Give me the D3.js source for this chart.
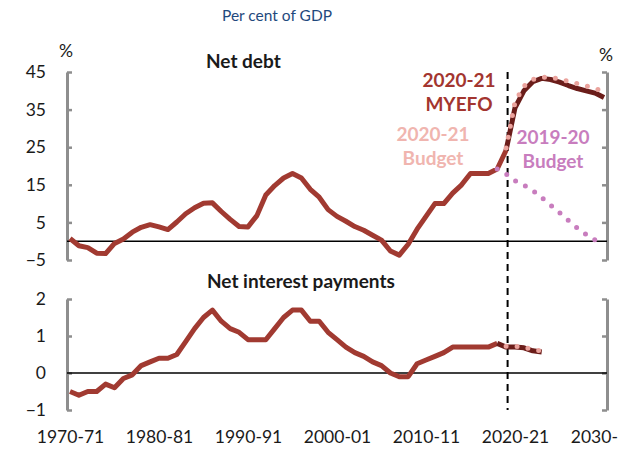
<!DOCTYPE html>
<html>
<head>
<meta charset="utf-8">
<script src="https://cdn.jsdelivr.net/npm/d3@7"></script>
<style>
  html, body { margin: 0; padding: 0; background: #fff; }
  svg { display: block; font-family: Lato, "Open Sans", sans-serif; }
</style>
</head>
<body>
<svg id="chart" width="618" height="449"></svg>
<script>
// Financial years 1970-71 .. 2030-31
const years = d3.range(1970, 2031).map(y => `${y}-${String((y + 1) % 100).padStart(2, "0")}`);
const xTickLabels = ["1970-71", "1980-81", "1990-91", "2000-01", "2010-11", "2020-21", "2030-31"];

const debtTicks = [-5, 5, 15, 25, 35, 45];
const interestTicks = [-1, 0, 1, 2];

// Net debt, per cent of GDP (outcomes 1970-71 to 2019-20)
const netDebtHistory = [
  0.7, -1.2, -1.7, -3.2, -3.3, -0.6, 0.6, 2.4, 3.7, 4.4,
  3.8, 3.1, 5.1, 7.3, 8.9, 10.1, 10.2, 7.9, 5.8, 3.9,
  3.8, 6.8, 12.3, 14.8, 16.8, 18.0, 16.8, 13.8, 11.7, 8.4,
  6.6, 5.3, 3.9, 2.9, 1.6, 0.3, -2.6, -3.7, -0.8, 3.2,
  6.6, 10.0, 10.0, 12.8, 15.0, 18.0, 18.0, 18.0, 19.2, 24.2
];
// 2020-21 MYEFO, from 2019-20
const netDebtMyefoStart = "2019-20";
const netDebtMyefo = [24.2, 35.5, 40.0, 42.4, 43.3, 43.0, 42.3, 41.4, 40.6, 40.0, 39.4, 38.2];
// 2020-21 Budget, from 2019-20
const netDebtBudget2021Start = "2019-20";
const netDebtBudget2021 = [24.8, 37.0, 41.2, 43.0, 43.6, 43.6, 43.1, 42.5, 41.9, 41.3, 40.6, 39.9];
// 2019-20 Budget, from 2018-19
const netDebtBudget1920Start = "2018-19";
const netDebtBudget1920 = [19.2, 17.9, 16.1, 14.9, 13.5, 11.6, 9.6, 7.6, 5.5, 3.5, 1.8, 0.3];

// Net interest payments, per cent of GDP (outcomes 1970-71 to 2018-19)
const interestHistory = [
  -0.5, -0.6, -0.5, -0.5, -0.3, -0.4, -0.15, -0.05, 0.2, 0.3,
  0.4, 0.4, 0.5, 0.85, 1.2, 1.5, 1.7, 1.4, 1.2, 1.1,
  0.9, 0.9, 0.9, 1.2, 1.5, 1.7, 1.7, 1.4, 1.4, 1.1,
  0.9, 0.7, 0.55, 0.45, 0.3, 0.2, 0.0, -0.1, -0.1, 0.25,
  0.35, 0.45, 0.55, 0.7, 0.7, 0.7, 0.7, 0.7, 0.8
];
const interestMyefoStart = "2018-19";
const interestMyefo = [0.8, 0.7, 0.7, 0.68, 0.6, 0.57];
const interestBudget2021Start = "2019-20";
const interestBudget2021 = [0.72, 0.72, 0.7, 0.63, 0.6];

const colors = {
  history: "#a13a31",
  myefo: "#6b1d1a",
  budget2021: "#eba39d",
  budget1920: "#c87dbe",
  axis: "#8e8e8e",
  title: "#1f497d",
  text: "#1a1a1a"
};

const svg = d3.select("#chart");
const W = 618;

const x = d3.scalePoint().domain(years).range([70, 604]);
const yDebt = d3.scaleLinear().domain([-5, 45]).range([260, 72]);
const yInt = d3.scaleLinear().domain([-1, 2]).range([410, 299]);

const axisLeftX = 67, axisRightX = 607;

function seriesPoints(start, values) {
  const i0 = years.indexOf(start);
  return values.map((v, i) => [years[i0 + i], v]);
}

function drawAxes(y, ticks) {
  const left = svg.append("g")
    .attr("transform", `translate(${axisLeftX},0)`)
    .call(d3.axisLeft(y).tickValues(ticks).tickSize(-5).tickSizeOuter(0).tickPadding(21).tickFormat(d3.format("d")));
  const right = svg.append("g")
    .attr("transform", `translate(${axisRightX},0)`)
    .call(d3.axisRight(y).tickValues(ticks).tickSize(-5).tickSizeOuter(0).tickFormat(""));
  [left, right].forEach(g => {
    g.select(".domain").attr("stroke", colors.axis).attr("stroke-width", 3);
    g.selectAll(".tick line").attr("stroke", colors.axis).attr("stroke-width", 2.5);
    g.selectAll(".tick text").attr("fill", colors.text).attr("font-size", 17.5)
      .attr("font-family", "Lato, sans-serif");
  });
  // zero line
  svg.append("line")
    .attr("x1", axisLeftX).attr("x2", axisRightX)
    .attr("y1", y(0)).attr("y2", y(0))
    .attr("stroke", "#000").attr("stroke-width", 1.5);
}

drawAxes(yDebt, debtTicks);
drawAxes(yInt, interestTicks);

// x-axis category labels
const xAxis = svg.append("g")
  .attr("transform", "translate(0,431)")
  .call(d3.axisBottom(x).tickValues(xTickLabels).tickSize(0).tickPadding(0));
xAxis.select(".domain").remove();
xAxis.selectAll(".tick text").attr("fill", colors.text).attr("font-size", 17.5)
  .attr("font-family", "Lato, sans-serif");

// vertical marker at 2019-20
svg.append("line")
  .attr("x1", x("2019-20") + 1.5).attr("x2", x("2019-20") + 1.5)
  .attr("y1", yDebt(45)).attr("y2", yInt(-1))
  .attr("stroke", "#000").attr("stroke-width", 2)
  .attr("stroke-dasharray", "7,5");

function drawLine(y, pts, color, dotted) {
  const line = d3.line().x(d => x(d[0])).y(d => y(d[1]));
  const p = svg.append("path")
    .datum(pts)
    .attr("d", line)
    .attr("fill", "none")
    .attr("stroke", color)
    .attr("stroke-width", 5)
    .attr("stroke-linejoin", "round");
  if (dotted) {
    p.attr("stroke-dasharray", "0,11").attr("stroke-linecap", "round");
  }
}

// Net debt panel
drawLine(yDebt, seriesPoints("1970-71", netDebtHistory), colors.history, false);
drawLine(yDebt, seriesPoints(netDebtMyefoStart, netDebtMyefo), colors.myefo, false);
drawLine(yDebt, seriesPoints(netDebtBudget2021Start, netDebtBudget2021), colors.budget2021, true);
drawLine(yDebt, seriesPoints(netDebtBudget1920Start, netDebtBudget1920), colors.budget1920, true);

// Net interest panel
drawLine(yInt, seriesPoints("1970-71", interestHistory), colors.history, false);
drawLine(yInt, seriesPoints(interestMyefoStart, interestMyefo), colors.myefo, false);
drawLine(yInt, seriesPoints(interestBudget2021Start, interestBudget2021), colors.budget2021, true);

// Titles and labels
svg.append("text").attr("x", 277).attr("y", 21).attr("text-anchor", "middle")
  .attr("font-size", 15.5).attr("fill", colors.title).text("Per cent of GDP");

svg.append("text").attr("x", 66).attr("y", 57).attr("text-anchor", "middle")
  .attr("font-size", 17.5).attr("fill", colors.text).text("%");
svg.append("text").attr("x", 606).attr("y", 61).attr("text-anchor", "middle")
  .attr("font-size", 17.5).attr("fill", colors.text).text("%");

svg.append("text").attr("x", 206).attr("y", 68)
  .attr("font-size", 19).attr("font-weight", "bold").attr("fill", colors.text).text("Net debt");
svg.append("text").attr("x", 207).attr("y", 288)
  .attr("font-size", 19).attr("font-weight", "bold").attr("fill", colors.text).text("Net interest payments");

function label(lines, cx, y0, color) {
  lines.forEach((t, i) => {
    svg.append("text").attr("x", cx).attr("y", y0 + i * 24).attr("text-anchor", "middle")
      .attr("font-size", 19).attr("font-weight", "bold").attr("fill", color).text(t);
  });
}
label(["2020-21", "MYEFO"], 459, 87, "#a3352f");
label(["2020-21", "Budget"], 433, 141, "#f0b5af");
label(["2019-20", "Budget"], 553, 144, colors.budget1920);
</script>
</body>
</html>
